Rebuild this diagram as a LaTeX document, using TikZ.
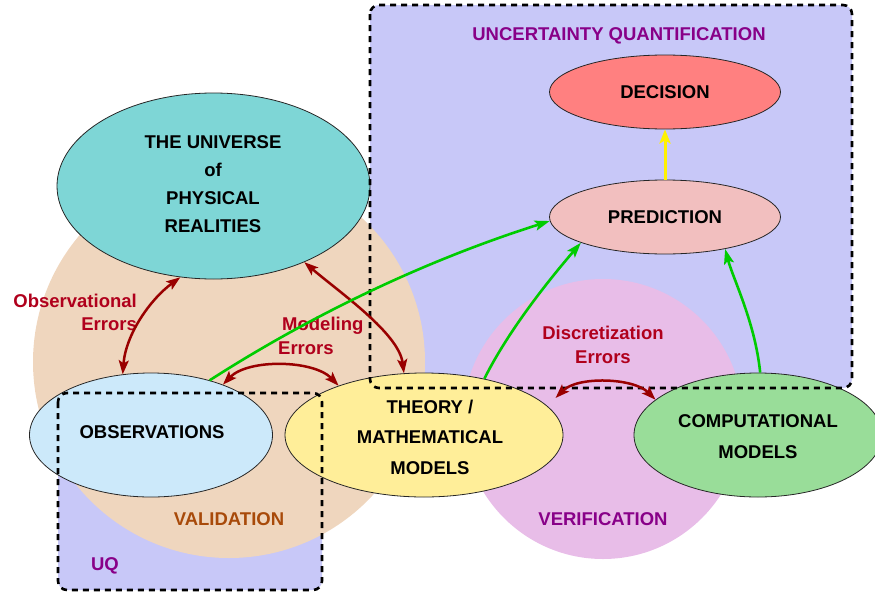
\documentclass[tikz,border=0pt]{standalone}
\usepackage{fontspec}
\setmainfont{Liberation Sans}
\usetikzlibrary{shapes.geometric,arrows.meta,calc}
\definecolor{uqblue}{HTML}{C8C8F8}
\definecolor{valbeige}{HTML}{EFD6BE}
\definecolor{verpink}{HTML}{E8BDE8}
\definecolor{uniteal}{HTML}{7ED6D6}
\definecolor{obsblue}{HTML}{CCE9FA}
\definecolor{thyellow}{HTML}{FFEE99}
\definecolor{compgreen}{HTML}{99DD99}
\definecolor{predpink}{HTML}{F2BFBF}
\definecolor{decred}{HTML}{FF8080}
\definecolor{errred}{HTML}{B0001C}
\definecolor{arrred}{HTML}{990000}
\definecolor{grn}{HTML}{00CC00}
\definecolor{purp}{HTML}{880088}
\definecolor{valtxt}{HTML}{A84A0A}
\begin{document}
\begin{tikzpicture}[x=1pt,y=-1pt,
  ell/.style={ellipse, draw=black!85, line width=0.8pt, inner sep=0pt},
  lbl/.style={font=\fontsize{18.5}{24}\selectfont\bfseries, align=center, inner sep=0pt},
  errlbl/.style={lbl, text=errred},
  dashbox/.style={draw=black, line width=2.6pt, dash pattern=on 6pt off 5pt, rounded corners=9pt},
  redarr/.style={draw=arrred, line width=2.5pt, {Stealth[length=14pt,width=10pt,inset=3pt]}-{Stealth[length=14pt,width=10pt,inset=3pt]}},
  grnarr/.style={draw=grn, line width=2.6pt, -{Stealth[length=15pt,width=10pt,inset=3pt]}},
  yelarr/.style={draw=yellow, line width=3pt, -{Stealth[length=14pt,width=11pt,inset=3pt]}}
]
\useasboundingbox (0,0) rectangle (875,597);
% UQ regions (fill)
\fill[uqblue, rounded corners=9pt] (370,5) rectangle (852,388);
\fill[uqblue, rounded corners=9pt] (58,393) rectangle (322,590);
% validation and verification circles
\fill[valbeige] (229,362) circle (196);
\fill[verpink] (603,419) circle (140);
% ellipses
\node[ell, fill=uniteal, minimum width=313pt, minimum height=186pt] (uni) at (213.5,186) {};
\node[ell, fill=obsblue, minimum width=243pt, minimum height=124pt] (obs) at (151,435) {};
\node[ell, fill=thyellow, minimum width=278pt, minimum height=124pt] (thy) at (424,435) {};
\node[ell, fill=compgreen, minimum width=248pt, minimum height=124pt] (comp) at (758,435) {};
\node[ell, fill=predpink, minimum width=231pt, minimum height=74pt] (pred) at (665,217) {};
\node[ell, fill=decred, minimum width=231pt, minimum height=74pt] (dec) at (665,92) {};
% texts in ellipses
\node[lbl, font=\fontsize{18.5}{28}\selectfont\bfseries] (unitxt) at (213,184) {THE UNIVERSE\\of\\PHYSICAL\\REALITIES};
\node[lbl] (obstxt) at (152,432) {OBSERVATIONS};
\node[lbl, font=\fontsize{18.5}{30.5}\selectfont\bfseries] (thytxt) at (430,437) {THEORY /\\MATHEMATICAL\\MODELS};
\node[lbl, font=\fontsize{18.5}{31}\selectfont\bfseries] (comptxt) at (758,437) {COMPUTATIONAL\\MODELS};
\node[lbl] (predtxt) at (665,217) {PREDICTION};
\node[lbl] (dectxt) at (665,92) {DECISION};
% region labels
\node[lbl, text=purp] (uqtitle) at (619,36) {UNCERTAINTY QUANTIFICATION};
\node[lbl, text=valtxt] (valtxt) at (229,519) {VALIDATION};
\node[lbl, text=purp] (vertxt) at (603,519) {VERIFICATION};
\node[lbl, text=purp] (uqtxt) at (105,566) {UQ};
% error labels
\node[errlbl, align=right, anchor=east, font=\fontsize{18.5}{23}\selectfont\bfseries] (obserr) at (137,312) {Observational\\Errors};
\node[errlbl, align=left, anchor=west, font=\fontsize{18.5}{24}\selectfont\bfseries] (moderr) at (278,336) {\hspace*{4pt}Modeling\\Errors};
\node[errlbl] (diserr) at (603,345) {Discretization\\Errors};
% dashed borders
\draw[dashbox] (370,5) rectangle (852,388);
\draw[dashbox] (58,393) rectangle (322,590);
% error arrows
\draw[redarr] (uni.250) .. controls +(-30,22) and +(3,-40) .. (obs.115);
\draw[redarr] (uni.320) .. controls +(35,30) and +(-5,-40) .. (thy.108);
\draw[redarr] (obs.35) .. controls +(25,-26) and +(-25,-26) .. (thy.150);
\draw[redarr] ($(thy.15)+(12,-5)$) .. controls +(22,-22) and +(-22,-22) .. (comp.161);
% green arrows
\draw[grnarr] (obs.43) .. controls +(106,-68) and +(-120,38) .. (pred.182);
\draw[grnarr] (thy.43) .. controls +(25,-50) and +(-30,35) .. (pred.197);
\draw[grnarr] (comp.88) .. controls +(-5,-50) and +(8,30) .. (pred.332);
% yellow arrow
\draw[yelarr] (pred.north) -- (dec.south);
\end{tikzpicture}
\end{document}
